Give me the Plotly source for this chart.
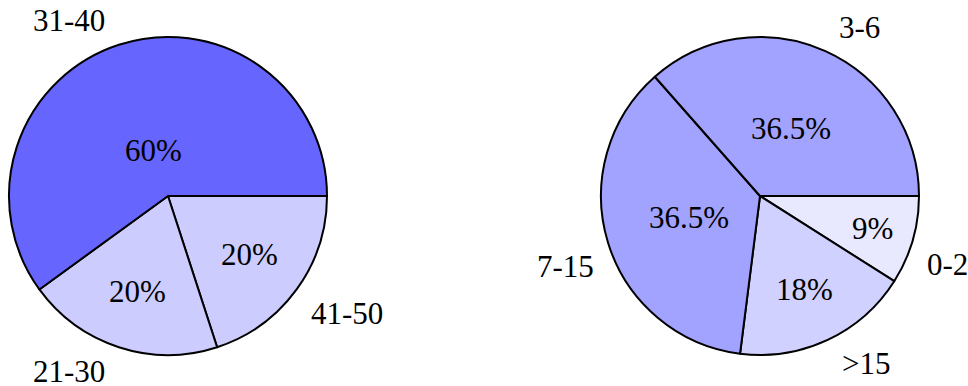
import math
import plotly.graph_objects as go

# Slices listed clockwise, starting at 3 o'clock
left_labels = ["41-50", "21-30", "31-40"]
left_values = [20, 20, 60]

right_labels = ["0-2", ">15", "7-15", "3-6"]
right_values = [9, 18, 36.5, 36.5]

W, H = 968, 386
FONT = dict(family="Liberation Serif, Times New Roman, serif", size=31, color="black")

# Square pie domains in pixels: (left, top, size)
PIE_BOXES = [(9, 37, 318), (601, 37, 318)]


def shade(v):
    # blue!v : mix of blue with white, proportional to the value
    g = round(255 * (1 - v / 100))
    return f"rgb({g},{g},255)"


def domain_of(box):
    x0, y0, s = box
    return dict(x=[x0 / W, (x0 + s) / W], y=[1 - (y0 + s) / H, 1 - y0 / H])


def pie_annotations(labels, values, box):
    x0, y0, s = box
    cx, cy, r = x0 + s / 2, y0 + s / 2, s / 2
    total = sum(values)
    anns = []
    start = 0.0
    for lab, v in zip(labels, values):
        span = 360 * v / total
        mid = math.radians(-(start + span / 2))
        c, sn = math.cos(mid), math.sin(mid)
        # inner value label: closer to the centre for wider slices
        inner = 0.8 + max(min(-(span - 10) * 0.3 / 110, 0), -0.5)
        px, py = cx + inner * r * c, cy - inner * r * sn
        anns.append(dict(x=px / W, y=1 - py / H, xref="paper", yref="paper",
                         text=f"{v:g}%", showarrow=False, font=FONT,
                         xanchor="center", yanchor="middle"))
        # outer category label, anchored at the corner facing the slice
        bx, by = cx + r * c, cy - r * sn
        gap = 12
        lx = bx + (gap if c >= 0 else -gap)
        ly = by + (-24 if sn >= 0 else 24)
        anns.append(dict(x=lx / W, y=1 - ly / H, xref="paper", yref="paper",
                         text=lab, showarrow=False, font=FONT,
                         xanchor="left" if c >= 0 else "right", yanchor="middle"))
        start += span
    return anns


fig = go.Figure()
for labels, values, box in [(left_labels, left_values, PIE_BOXES[0]),
                            (right_labels, right_values, PIE_BOXES[1])]:
    fig.add_trace(go.Pie(
        labels=labels, values=values, sort=False,
        direction="clockwise", rotation=90,
        textinfo="none", hoverinfo="label+value",
        marker=dict(colors=[shade(v) for v in values],
                    line=dict(color="black", width=2)),
        domain=domain_of(box), showlegend=False,
    ))

annotations = (pie_annotations(left_labels, left_values, PIE_BOXES[0])
               + pie_annotations(right_labels, right_values, PIE_BOXES[1]))

fig.update_layout(
    width=W, height=H,
    margin=dict(l=0, r=0, t=0, b=0),
    paper_bgcolor="white", plot_bgcolor="white",
    annotations=annotations,
    font=FONT,
)

fig.write_html("out.html")
